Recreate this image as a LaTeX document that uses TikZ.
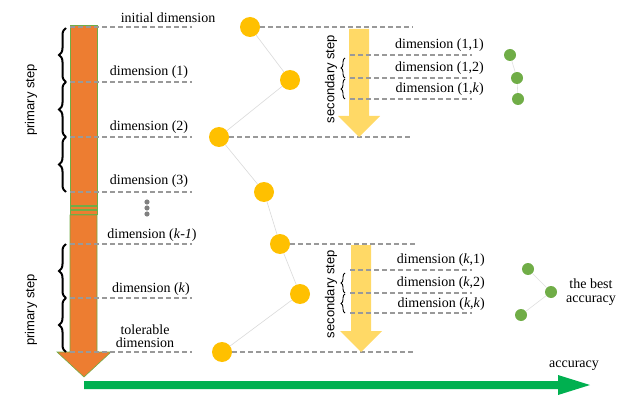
\documentclass[tikz,border=0pt]{standalone}
\usepackage{fontspec}
\setmainfont{Liberation Serif}
\newfontfamily\sans{Liberation Sans}
\usetikzlibrary{decorations.pathreplacing}
\definecolor{org}{HTML}{ED7D31}
\definecolor{grn}{HTML}{70AD47}
\definecolor{ylw}{HTML}{FFC000}
\definecolor{lylw}{HTML}{FFD966}
\definecolor{agrn}{HTML}{00B050}
\begin{document}
\begin{tikzpicture}[x=1pt,y=-1pt,
  dsh/.style={gray!80,line width=1.1pt,dash pattern=on 5pt off 3pt},
  lbl/.style={font=\fontsize{14}{13.5}\selectfont,inner sep=0pt},
  ydot/.style={circle,fill=ylw,minimum size=20pt,inner sep=0pt},
  gdot/.style={circle,fill=grn,minimum size=12pt,inner sep=0pt},
  brL/.style={decorate,decoration={brace,amplitude=7pt},line width=2pt},
  brS/.style={decorate,decoration={brace,amplitude=4pt},line width=0.9pt},
  rot/.style={rotate=90,font=\sans\fontsize{13}{13}\selectfont,inner sep=0pt}]
\useasboundingbox (0,0) rectangle (640,409);
% orange bar
\fill[org,draw=grn,line width=0.6pt] (70,25) rectangle (97,205);
\fill[org,draw=grn,line width=0.6pt] (70,206) rectangle (97,209.5);
\fill[org,draw=grn,line width=0.6pt] (70,210.5) rectangle (97,214);
\fill[org,draw=grn,line width=0.6pt] (70,215) -- (97,215) -- (97,352) -- (111,352) -- (84,377) -- (57,352) -- (70,352) -- cycle;
% green accuracy arrow
\fill[agrn] (84,381) -- (558,381) -- (558,375) -- (590,385) -- (558,395) -- (558,389) -- (84,389) -- cycle;
\node[lbl] (acc) at (574,366) {accuracy};
% left dashed levels
\foreach \y/\n in {27/a,82/b,137/c,192/d,244/e,298/f,352/g}{
  \coordinate (L\n) at (70,\y); \coordinate (R\n) at (192,\y);
  \draw[dsh] (L\n) -- (R\n);}
\node[lbl] (t0) at (168,18) {initial dimension};
\node[lbl] (t1) at (149,72) {dimension (1)};
\node[lbl] (t2) at (149,127) {dimension (2)};
\node[lbl] (t3) at (149,181) {dimension (3)};
\node[lbl] (t4) at (152,235) {dimension (\textit{k}-\textit{1})};
\node[lbl] (t5) at (151,289) {dimension (\textit{k})};
\node[lbl,align=center] (t6) at (145,336) {tolerable\\dimension};
\foreach \y [count=\i] in {202,208,214}{\fill[gray] (147,\y) circle (2.6pt);}
% braces
\draw[brL] (66,82) -- (66,28);
\draw[brL] (66,137) -- (66,82);
\draw[brL] (66,192) -- (66,137);
\draw[brL] (66,298) -- (66,244);
\draw[brL] (66,352) -- (66,298);
\node[rot] (p1) at (31,100) {primary step};
\node[rot] (p2) at (31,310) {primary step};
% yellow circles path
\node[ydot] (c1) at (250,27) {};
\node[ydot] (c2) at (290,80) {};
\node[ydot] (c3) at (219,137) {};
\node[ydot] (c4) at (264,192) {};
\node[ydot] (c5) at (280,244) {};
\node[ydot] (c6) at (300,294) {};
\node[ydot] (c7) at (222,352) {};
\draw[gray!30,line width=0.6pt] (c1)--(c2)--(c3)--(c4)--(c5)--(c6)--(c7);
\coordinate (e1) at (413,27); \coordinate (e3) at (412,137);
\coordinate (e5) at (415,244); \coordinate (e7) at (413,352);
\draw[dsh] (c1.east) -- (e1);
\draw[dsh] (c3.east) -- (e3);
\draw[dsh] (c5.east) -- (e5);
\draw[dsh] (c7.east) -- (e7);
% secondary arrows
\fill[lylw] (349,29) -- (369,29) -- (369,116) -- (380,116) -- (359,137) -- (338,116) -- (349,116) -- cycle;
\fill[lylw] (351,245) -- (371,245) -- (371,331) -- (382,331) -- (361,352) -- (340,331) -- (351,331) -- cycle;
\node[rot] (s1) at (331,79) {secondary step};
\node[rot] (s2) at (331,294) {secondary step};
\foreach \y/\n in {55/a,78/b,99/c,270/d,293/e,313/f}{
  \coordinate (SL\n) at (350,\y); \coordinate (SR\n) at (472,\y);
  \draw[dsh] (SL\n) -- (SR\n);}
\draw[brS] (345,78) -- (345,58);
\draw[brS] (345,99) -- (345,79);
\draw[brS] (345,293) -- (345,273);
\draw[brS] (345,313) -- (345,294);
\node[lbl,anchor=east] (d11) at (484,45) {dimension (1,1)};
\node[lbl,anchor=east] (d12) at (484,68) {dimension (1,2)};
\node[lbl,anchor=east] (d1k) at (484,89) {dimension (1,\textit{k})};
\node[lbl,anchor=east] (dk1) at (485,260) {dimension (\textit{k},1)};
\node[lbl,anchor=east] (dk2) at (485,283) {dimension (\textit{k},2)};
\node[lbl,anchor=east] (dkk) at (485,304) {dimension (\textit{k},\textit{k})};
% green dots
\node[gdot] (g1) at (510,55) {};
\node[gdot] (g2) at (517,78) {};
\node[gdot] (g3) at (518,99) {};
\draw[gray!25,line width=0.6pt] (g1)--(g2)--(g3);
\node[gdot] (h1) at (528,269) {};
\node[gdot] (h2) at (551,292) {};
\node[gdot] (h3) at (521,315) {};
\draw[gray!25,line width=0.6pt] (h1)--(h2)--(h3);
\node[lbl,align=center] (best) at (591,292) {the best\\accuracy};
\end{tikzpicture}
\end{document}
